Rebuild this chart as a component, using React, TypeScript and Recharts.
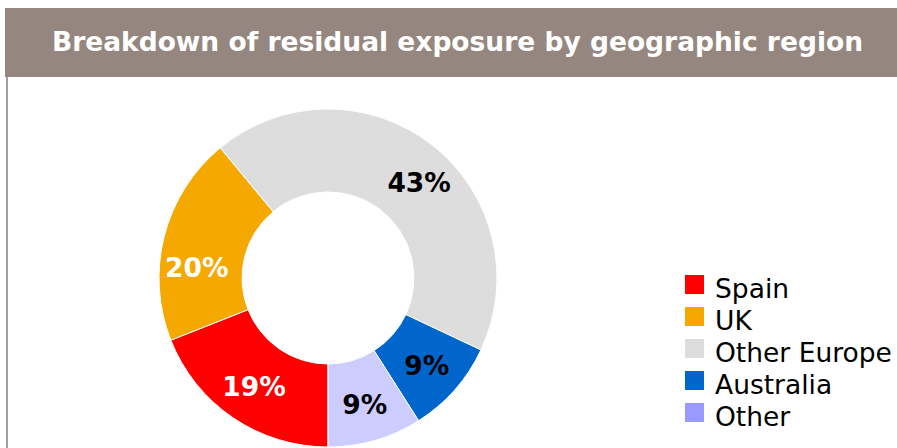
import React from 'react';
import { PieChart, Pie, Cell, Legend } from 'recharts';

const regions = ['Spain', 'UK', 'Other Europe', 'Australia', 'Other'];
const shares = [19, 20, 43, 9, 9];
const sliceColors = ['#ff0000', '#f5a800', '#dddddd', '#0066cc', '#ccccff'];
const legendColors = ['#ff0000', '#f5a800', '#dddddd', '#0066cc', '#9999ff'];
const labelColors = ['#ffffff', '#ffffff', '#000000', '#000000', '#000000'];
// small angle tweaks (degrees) so labels sit clear of the slice edges
const labelNudge = [0, 10, -6, 0, 0];

const pieData = regions.map((name, i) => ({ name, value: shares[i] }));

const FONT = '"DejaVu Sans", Verdana, sans-serif';
const RAD = Math.PI / 180;

const renderLabel = (props: any) => {
  const { cx, cy, midAngle, innerRadius, outerRadius, index, value } = props;
  const r = innerRadius + (outerRadius - innerRadius) * 0.55;
  const a = (midAngle + labelNudge[index]) * RAD;
  const x = cx + r * Math.cos(-a);
  const y = cy + r * Math.sin(-a);
  return (
    <text
      x={x}
      y={y}
      fill={labelColors[index]}
      textAnchor="middle"
      dominantBaseline="central"
      fontFamily={FONT}
      fontWeight="bold"
      fontSize={26.5}
    >
      {`${value}%`}
    </text>
  );
};

const renderLegend = () => (
  <div style={{ fontFamily: FONT, fontSize: 26.5, color: '#000' }}>
    {regions.map((name, i) => (
      <div key={name} style={{ display: 'flex', alignItems: 'center', height: 32 }}>
        <span
          style={{
            display: 'inline-block',
            width: 19,
            height: 19,
            background: legendColors[i],
            marginRight: 11,
          }}
        />
        <span style={{ position: 'relative', top: 4, whiteSpace: 'nowrap' }}>{name}</span>
      </div>
    ))}
  </div>
);

export default function App() {
  return (
    <div style={{ position: 'absolute', left: 0, top: 0, width: 897, height: 448, background: '#fff', overflow: 'hidden' }}>
      <div
        style={{
          position: 'absolute',
          left: 5,
          top: 8,
          width: 892,
          paddingLeft: 13,
          boxSizing: 'border-box',
          height: 69,
          background: '#958780',
          color: '#fff',
          fontFamily: FONT,
          fontWeight: 'bold',
          fontSize: 26.5,
          lineHeight: '68px',
          textAlign: 'center',
          whiteSpace: 'nowrap',
        }}
      >
        Breakdown of residual exposure by geographic region
      </div>
      <div style={{ position: 'absolute', left: 6, top: 77, width: 2, height: 371, background: '#a89c98' }} />
      <div style={{ position: 'absolute', left: 0, top: 0 }}>
        <PieChart width={897} height={448} margin={{ top: 0, right: 0, bottom: 0, left: 0 }}>
          <Pie
            data={pieData}
            dataKey="value"
            nameKey="name"
            cx={328}
            cy={278}
            innerRadius={86}
            outerRadius={169}
            startAngle={270}
            endAngle={-90}
            stroke="#ffffff"
            strokeWidth={1}
            label={renderLabel}
            labelLine={false}
            isAnimationActive={false}
          >
            {pieData.map((d, i) => (
              <Cell key={d.name} fill={sliceColors[i]} />
            ))}
          </Pie>
          <Legend
            content={renderLegend}
            layout="vertical"
            wrapperStyle={{ left: 685, top: 268, width: 212 }}
          />
        </PieChart>
      </div>
    </div>
  );
}
